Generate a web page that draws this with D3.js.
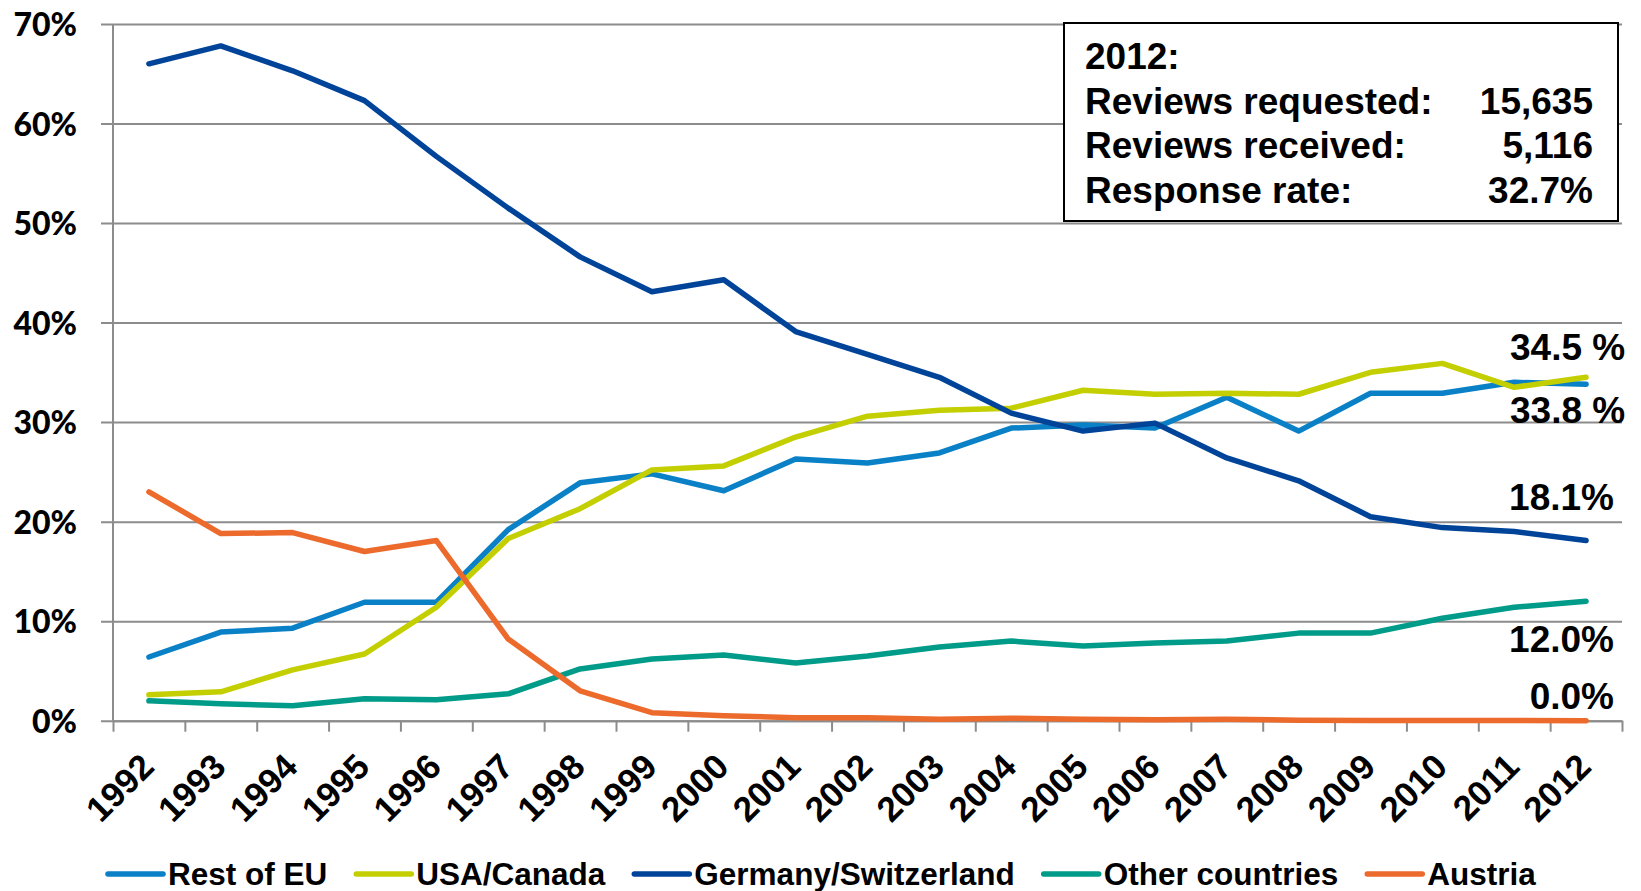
<!DOCTYPE html>
<html>
<head>
<meta charset="utf-8">
<script src="https://cdn.jsdelivr.net/npm/d3@7"></script>
<style>
  body { margin: 0; background: #fff; }
  svg { display: block; }
  text { font-family: "Liberation Sans", Arial, sans-serif; font-weight: bold; fill: #000; }
  .ylab text { font-family: Lato, "Liberation Sans", sans-serif; font-weight: 900; }
</style>
</head>
<body>
<svg id="chart" width="1641" height="891"></svg>
<script>
// data (share of reviews, %)
const years = d3.range(1992, 2013);
const restEU = [6.4, 8.9, 9.3, 11.9, 11.9, 19.2, 23.9, 24.8, 23.1, 26.3, 25.9, 26.9, 29.4, 29.7, 29.4, 32.5, 29.1, 32.9, 32.9, 34.0, 33.8];
const usaCanada = [2.6, 2.9, 5.1, 6.7, 11.4, 18.3, 21.3, 25.2, 25.6, 28.5, 30.6, 31.2, 31.4, 33.2, 32.8, 32.9, 32.8, 35.0, 35.9, 33.5, 34.5];
const germanySwitz = [66.0, 67.8, 65.3, 62.3, 56.7, 51.5, 46.6, 43.1, 44.3, 39.1, 36.8, 34.5, 30.9, 29.1, 29.9, 26.4, 24.1, 20.5, 19.4, 19.0, 18.1];
const otherCountries = [2.0, 1.7, 1.5, 2.2, 2.1, 2.7, 5.2, 6.2, 6.6, 5.8, 6.5, 7.4, 8.0, 7.5, 7.8, 8.0, 8.8, 8.8, 10.3, 11.4, 12.0];
const austria = [23.0, 18.8, 18.9, 17.0, 18.1, 8.2, 3.0, 0.8, 0.5, 0.3, 0.3, 0.15, 0.25, 0.15, 0.1, 0.15, 0.05, 0.03, 0.02, 0.01, 0.0];

const seriesNames = ["Rest of EU", "USA/Canada", "Germany/Switzerland", "Other countries", "Austria"];
const seriesValues = [restEU, usaCanada, germanySwitz, otherCountries, austria];
const colors = ["#0a80c6", "#c3cf00", "#00449a", "#009b89", "#ec6a2c"];

const yTicks = [0, 10, 20, 30, 40, 50, 60, 70];
// labels at the end of the lines: text, series index, vertical nudge
const endLabels = [["34.5 %", 1, -17, "start"], ["33.8 %", 0, 39, "start"], ["18.1%", 2, -31, "end"], ["12.0%", 3, 51, "end"], ["0.0%", 4, -12, "end"]];

const boxRows = [["2012:", ""], ["Reviews requested:", "15,635"], ["Reviews received:", "5,116"], ["Response rate:", "32.7%"]];

const svg = d3.select("#chart");
const plotL = 113, plotR = 1622, plotT = 24, plotB = 720.7;

const x = d3.scaleBand().domain(years).range([plotL, plotR]);
const xb = d3.scaleLinear().domain([1991.5, 2012.5]).range([plotL, plotR]);
const y = d3.scaleLinear().domain([0, 70]).range([plotB, plotT]);
const cx = d => x(d) + x.bandwidth() / 2;

// gridlines
svg.append("g")
  .attr("transform", "translate(101,0)")
  .call(d3.axisRight(y).tickValues(yTicks).tickSize(plotR - 101).tickFormat(""))
  .call(g => g.select(".domain").remove())
  .call(g => g.selectAll("line").attr("stroke", "#8c8c8c").attr("stroke-width", 2));

// y labels
svg.append("g").attr("class", "ylab")
  .attr("transform", `translate(${plotL},0)`)
  .call(d3.axisLeft(y).tickValues(yTicks).tickSize(0).tickPadding(36).tickFormat(d => d + "%"))
  .call(g => g.select(".domain").remove())
  .call(g => g.selectAll("text").attr("font-size", 32).attr("dy", "0.36em"));

// x ticks at category boundaries
svg.append("g")
  .attr("transform", `translate(0,${plotB})`)
  .call(d3.axisBottom(xb).tickValues(d3.range(1991.5, 2013, 1)).tickSize(11).tickSizeOuter(0).tickFormat(""))
  .call(g => g.select(".domain").attr("stroke", "#8c8c8c").attr("stroke-width", 2))
  .call(g => g.selectAll("line").attr("stroke", "#8c8c8c").attr("stroke-width", 2));

svg.append("line")
  .attr("x1", plotL).attr("x2", plotL).attr("y1", plotT).attr("y2", plotB)
  .attr("stroke", "#8c8c8c").attr("stroke-width", 2);

// year labels
svg.append("g").selectAll("text").data(years).join("text")
  .attr("transform", d => `translate(${cx(d) + 7},${plotB + 48}) rotate(-45)`)
  .attr("text-anchor", "end")
  .attr("font-size", 35)
  .text(d => d);

// lines
const line = d3.line().x((d, i) => cx(years[i])).y(d => y(d));
svg.append("g").selectAll("path").data(seriesValues).join("path")
  .attr("d", line)
  .attr("fill", "none")
  .attr("stroke", (d, i) => colors[i])
  .attr("stroke-width", 5.5)
  .attr("stroke-linecap", "round")
  .attr("stroke-linejoin", "round");

// end labels
svg.append("g").selectAll("text").data(endLabels).join("text")
  .attr("x", d => d[3] === "start" ? 1510 : 1614)
  .attr("y", d => y(seriesValues[d[1]][years.length - 1]) + d[2])
  .attr("text-anchor", d => d[3])
  .attr("font-size", 37)
  .text(d => d[0]);

// info box
const box = svg.append("g");
box.append("rect")
  .attr("x", 1064).attr("y", 23).attr("width", 554).attr("height", 198)
  .attr("fill", "#fff").attr("stroke", "#000").attr("stroke-width", 2);
boxRows.forEach((r, i) => {
  box.append("text").attr("x", 1085).attr("y", 69 + i * 44.5).attr("font-size", 37).text(r[0]);
  box.append("text").attr("x", 1593).attr("y", 69 + i * 44.5).attr("font-size", 37)
    .attr("text-anchor", "end").text(r[1]);
});

// legend
const legend = svg.append("g");
let lx = 108;
seriesNames.forEach((name, i) => {
  legend.append("line")
    .attr("x1", lx).attr("x2", lx + 55).attr("y1", 874).attr("y2", 874)
    .attr("stroke", colors[i]).attr("stroke-width", 5.5).attr("stroke-linecap", "round");
  const t = legend.append("text").attr("x", lx + 60).attr("y", 885).attr("font-size", 31.5).text(name);
  lx += 60 + t.node().getComputedTextLength() + 29;
});
</script>
</body>
</html>
